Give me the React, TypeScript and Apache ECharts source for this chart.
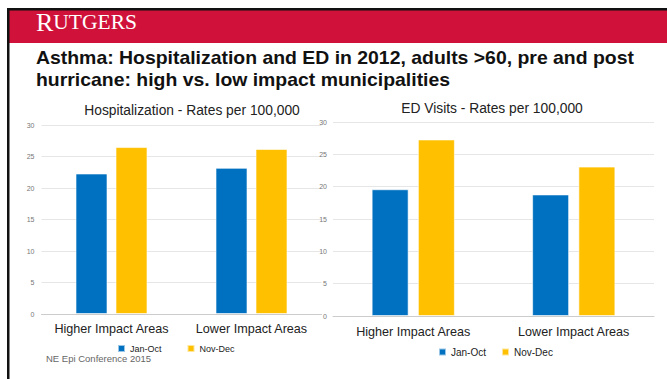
import React, { useEffect, useRef } from "react";
import * as echarts from "echarts";

const categories = ["Higher Impact Areas", "Lower Impact Areas"];
const seriesNames = ["Jan-Oct", "Nov-Dec"];
const hospJanOct = [22.3, 23.2];
const hospNovDec = [26.5, 26.2];
const edJanOct = [19.6, 18.8];
const edNovDec = [27.3, 23.1];
const yTicks = { min: 0, max: 30, interval: 5 };

const BLUE = "#0070c0";
const YELLOW = "#ffc000";

export default function App() {
  const ref = useRef<HTMLDivElement>(null);
  useEffect(() => {
    if (!ref.current) return;
    const chart = echarts.init(ref.current, undefined, { renderer: "svg" });
    const yAxisBase = {
      type: "value",
      min: yTicks.min,
      max: yTicks.max,
      interval: yTicks.interval,
      axisLine: { show: false },
      axisTick: { show: false },
      axisLabel: { fontSize: 7, color: "#777", fontFamily: "Liberation Sans, Arial" },
      splitLine: { lineStyle: { color: "#e6e6e6", width: 1 } },
    };
    const xAxisBase = {
      type: "category",
      data: categories,
      axisTick: { show: false },
      axisLine: { lineStyle: { color: "#cccccc", width: 1 } },
      axisLabel: {
        fontSize: 12.6,
        color: "#222",
        margin: 8,
        interval: 0,
        hideOverlap: false,
        fontFamily: "Liberation Sans, Arial",
      },
    };
    const barBase = (name: string, data: number[], color: string, axis: number, w: number) => ({
      type: "bar",
      name,
      data,
      xAxisIndex: axis,
      yAxisIndex: axis,
      barWidth: w,
      barGap: "25%",
      itemStyle: { color, borderColor: "rgba(255,255,255,0.6)", borderWidth: 1 },
    });
    const rayFill = "rgba(150,10,35,0.18)";
    chart.setOption({
      animation: false,
      backgroundColor: "#ffffff",
      textStyle: { fontFamily: "Liberation Sans, Arial" },
      title: [
        {
          text: "Hospitalization - Rates per 100,000",
          left: 187,
          top: 98,
          textAlign: "center",
          textStyle: { fontSize: 13.8, fontWeight: "normal", color: "#222" },
        },
        {
          text: "ED Visits - Rates per 100,000",
          left: 487,
          top: 96,
          textAlign: "center",
          textStyle: { fontSize: 13.8, fontWeight: "normal", color: "#222" },
        },
      ],
      legend: [
        {
          data: seriesNames,
          left: 112,
          top: 339,
          itemWidth: 7,
          itemHeight: 7,
          itemGap: 25,
          icon: "rect",
          textStyle: { fontSize: 9, color: "#222", padding: [3, 0, 0, 0] },
          selectedMode: false,
        },
        {
          data: seriesNames,
          left: 433,
          top: 342,
          itemWidth: 7,
          itemHeight: 7,
          itemGap: 15,
          icon: "rect",
          textStyle: { fontSize: 10, color: "#222", padding: [3, 0, 0, 0] },
          selectedMode: false,
        },
      ],
      grid: [
        { left: 41.5, top: 125, width: 280, height: 189 },
        { left: 333, top: 122, width: 321, height: 194 },
      ],
      xAxis: [
        { ...xAxisBase, gridIndex: 0 },
        { ...xAxisBase, gridIndex: 1, axisLabel: { ...xAxisBase.axisLabel, margin: 9 } },
      ],
      yAxis: [
        { ...yAxisBase, gridIndex: 0, axisLabel: { ...yAxisBase.axisLabel, margin: 7 } },
        { ...yAxisBase, gridIndex: 1, axisLabel: { ...yAxisBase.axisLabel, margin: 6 } },
      ],
      series: [
        barBase(seriesNames[0], hospJanOct, BLUE, 0, 32),
        barBase(seriesNames[1], hospNovDec, YELLOW, 0, 32),
        barBase(seriesNames[0], edJanOct, BLUE, 1, 37),
        barBase(seriesNames[1], edNovDec, YELLOW, 1, 37),
      ],
      color: [BLUE, YELLOW],
      graphic: [
        { type: "rect", shape: { x: 9, y: 10, width: 658, height: 33 }, style: { fill: "#d0123a" }, z: 10 },
        {
          type: "group",
          z: 10,
          children: [
            { type: "polygon", shape: { points: [[9, 22], [9, 34], [26, 43], [40, 43]] }, style: { fill: rayFill } },
            { type: "polygon", shape: { points: [[130, 10], [150, 10], [175, 43], [158, 43]] }, style: { fill: rayFill } },
            { type: "polygon", shape: { points: [[190, 10], [215, 10], [205, 43], [185, 43]] }, style: { fill: rayFill } },
            { type: "polygon", shape: { points: [[245, 10], [272, 10], [240, 43], [222, 43]] }, style: { fill: rayFill } },
            { type: "polygon", shape: { points: [[300, 14], [330, 10], [340, 30], [300, 43], [270, 43]] }, style: { fill: rayFill } },
            { type: "polygon", shape: { points: [[360, 10], [420, 10], [370, 43], [345, 43]] }, style: { fill: "rgba(150,10,35,0.1)" } },
          ],
        },
        { type: "rect", shape: { x: 7, y: 8, width: 660, height: 2.5 }, style: { fill: "#111" }, z: 11 },
        { type: "rect", shape: { x: 7, y: 8, width: 2.5, height: 371 }, style: { fill: "#111" }, z: 11 },
        {
          type: "text",
          x: 36,
          y: 35,
          z: 12,
          style: {
            text: "{a|R}{b|UTGERS}",
            textVerticalAlign: "bottom",
            rich: {
              a: { fontSize: 26, fill: "#fff", fontFamily: "Liberation Serif, Times New Roman, serif" },
              b: { fontSize: 21.5, fill: "#fff", fontFamily: "Liberation Serif, Times New Roman, serif" },
            },
          } as any,
        },
        {
          type: "text",
          x: 36,
          y: 47.5,
          scaleX: 1.11,
          z: 12,
          style: {
            text: "Asthma: Hospitalization and ED in 2012, adults >60, pre and post\nhurricane: high vs. low impact municipalities",
            fill: "#111",
            font: "bold 17.5px Liberation Sans, Arial, sans-serif",
            lineHeight: 21.5,
          } as any,
        },
        {
          type: "text",
          x: 46,
          y: 353,
          z: 12,
          style: {
            text: "NE Epi Conference 2015",
            fill: "#666",
            font: "9.5px Liberation Sans, Arial, sans-serif",
          } as any,
        },
      ],
    });
    return () => chart.dispose();
  }, []);
  return (
    <div
      ref={ref}
      style={{ position: "fixed", left: 0, top: 0, width: 667, height: 379 }}
    />
  );
}
